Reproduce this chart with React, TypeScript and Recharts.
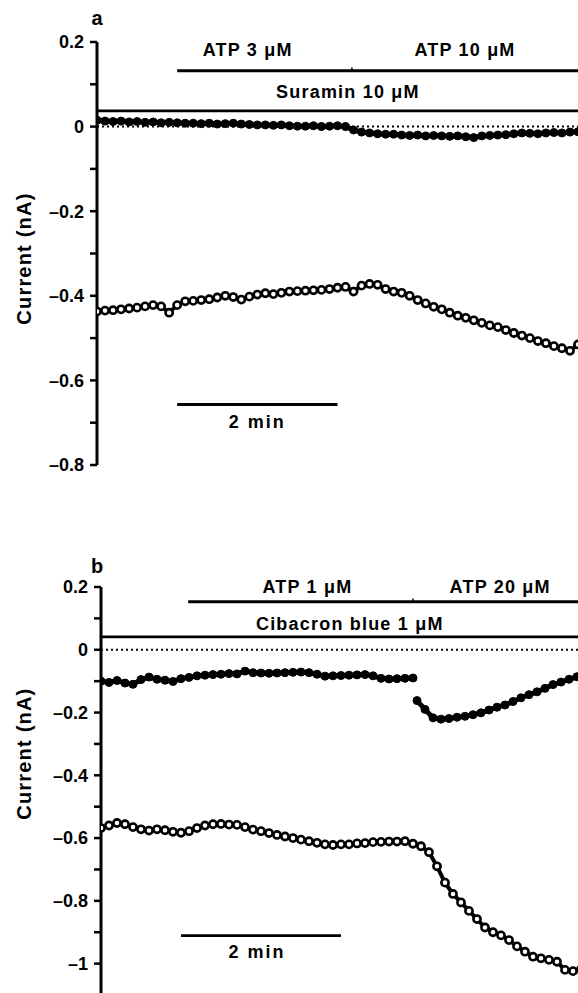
import React from 'react';
import { LineChart, Line, XAxis, YAxis, ReferenceLine, ReferenceDot } from 'recharts';

const FONT = '"Liberation Sans", Arial, Helvetica, sans-serif';

// sample times in minutes (one point every 0.1 min)
const TIME = [
  0, 0.1, 0.2, 0.3, 0.4, 0.5, 0.6, 0.7, 0.8, 0.9,
  1, 1.1, 1.2, 1.3, 1.4, 1.5, 1.6, 1.7, 1.8, 1.9,
  2, 2.1, 2.2, 2.3, 2.4, 2.5, 2.6, 2.7, 2.8, 2.9,
  3, 3.1, 3.2, 3.3, 3.4, 3.5, 3.6, 3.7, 3.8, 3.9,
  4, 4.1, 4.2, 4.3, 4.4, 4.5, 4.6, 4.7, 4.8, 4.9,
  5, 5.1, 5.2, 5.3, 5.4, 5.5, 5.6, 5.7, 5.8, 5.9, 6,
];

const A_TICKS = [0.2, 0.1, 0, -0.1, -0.2, -0.3, -0.4, -0.5, -0.6, -0.7, -0.8];
const B_TICKS = [0.2, 0.1, 0, -0.1, -0.2, -0.3, -0.4, -0.5, -0.6, -0.7, -0.8, -0.9, -1];

// panel a, current (nA)
const A_UPPER = [
  0.015, 0.013, 0.012, 0.013, 0.011, 0.012, 0.010, 0.011, 0.009, 0.010,
  0.009, 0.008, 0.008, 0.007, 0.008, 0.006, 0.007, 0.008, 0.006, 0.005,
  0.004, 0.004, 0.003, 0.004, 0.002, 0.001, 0.001, 0.002, 0.000, 0.001,
  0.002, 0.000, -0.008, -0.013, -0.015, -0.017, -0.018, -0.018, -0.020, -0.021,
  -0.020, -0.022, -0.021, -0.022, -0.023, -0.022, -0.024, -0.026, -0.022, -0.021,
  -0.020, -0.019, -0.017, -0.015, -0.016, -0.017, -0.015, -0.014, -0.015, -0.013, -0.012,
];
const A_LOWER = [
  -0.437, -0.435, -0.434, -0.432, -0.430, -0.428, -0.425, -0.422, -0.425, -0.440,
  -0.422, -0.413, -0.412, -0.410, -0.408, -0.404, -0.400, -0.403, -0.409, -0.402,
  -0.397, -0.394, -0.396, -0.393, -0.390, -0.389, -0.388, -0.387, -0.386, -0.384,
  -0.381, -0.379, -0.390, -0.376, -0.372, -0.374, -0.384, -0.390, -0.393, -0.400,
  -0.410, -0.418, -0.426, -0.432, -0.440, -0.447, -0.452, -0.458, -0.464, -0.470,
  -0.474, -0.481, -0.488, -0.494, -0.500, -0.507, -0.512, -0.519, -0.524, -0.530, -0.515,
];

// panel b, current (nA)
const B_UPPER_1 = [
  -0.100, -0.104, -0.098, -0.106, -0.110, -0.095, -0.087, -0.094, -0.097, -0.101,
  -0.092, -0.088, -0.083, -0.081, -0.079, -0.078, -0.076, -0.077, -0.068, -0.073,
  -0.074, -0.075, -0.074, -0.073, -0.072, -0.071, -0.073, -0.078, -0.084, -0.083,
  -0.082, -0.081, -0.080, -0.079, -0.083, -0.091, -0.093, -0.092, -0.091, -0.090,
];
const B_UPPER_2_TIME = [
  3.95, 4.05, 4.15, 4.25, 4.35, 4.45, 4.55, 4.65, 4.75, 4.85,
  4.95, 5.05, 5.15, 5.25, 5.35, 5.45, 5.55, 5.65, 5.75, 5.85, 5.95,
];
const B_UPPER_2 = [
  -0.162, -0.190, -0.217, -0.221, -0.219, -0.215, -0.212, -0.207, -0.201, -0.192,
  -0.183, -0.176, -0.165, -0.153, -0.143, -0.134, -0.123, -0.111, -0.103, -0.094, -0.086,
];
const B_LOWER = [
  -0.568, -0.560, -0.552, -0.556, -0.565, -0.572, -0.576, -0.572, -0.575, -0.580,
  -0.583, -0.578, -0.568, -0.560, -0.556, -0.555, -0.557, -0.558, -0.565, -0.573,
  -0.578, -0.584, -0.590, -0.595, -0.600, -0.605, -0.610, -0.615, -0.620, -0.622,
  -0.620, -0.620, -0.617, -0.616, -0.613, -0.612, -0.611, -0.611, -0.610, -0.618,
  -0.626, -0.645, -0.690, -0.742, -0.778, -0.805, -0.832, -0.858, -0.885, -0.900,
  -0.910, -0.925, -0.945, -0.962, -0.978, -0.983, -0.988, -0.994, -1.020, -1.024, -1.018,
];

const series = (times: number[], vals: number[]) => times.map((t, i) => ({ t, v: vals[i] }));

const fmtTick = (v: number) => {
  const k = Math.round(v * 10);
  if (k % 2 !== 0) return '';
  if (k === 0) return '0';
  return (k < 0 ? '–' : '') + String(Math.abs(k) / 10);
};

const note = (key: string, x: number, y: number, text: string, extra: any = {}) => (
  <ReferenceDot
    key={key}
    x={x}
    y={y}
    r={0}
    ifOverflow="visible"
    stroke="none"
    fill="none"
    label={{
      value: text,
      position: 'center',
      fill: '#000',
      fontSize: 18,
      fontWeight: 700,
      fontFamily: FONT,
      letterSpacing: 1.2,
      ...extra,
    }}
  />
);

const bar = (key: string, x1: number, x2: number, y: number) => (
  <ReferenceLine
    key={key}
    segment={[{ x: x1, y }, { x: x2, y }]}
    stroke="#000"
    strokeWidth={2.8}
    ifOverflow="visible"
  />
);

const axisProps = {
  type: 'number' as const,
  interval: 0 as const,
  tickFormatter: fmtTick,
  tickSize: 7,
  tickMargin: 6,
  axisLine: { stroke: '#000', strokeWidth: 3 },
  tickLine: { stroke: '#000', strokeWidth: 2.5 },
  tick: { fill: '#000', fontSize: 18, fontWeight: 700, fontFamily: FONT },
  allowDataOverflow: true,
};

const filledDot = { r: 4, fill: '#000', stroke: '#000', strokeWidth: 1 };
const openDot = { r: 3.6, fill: '#fff', stroke: '#000', strokeWidth: 2.6 };

const PanelA = () => (
  <LineChart width={578} height={480} margin={{ top: 42, right: 0, bottom: 15, left: 0 }}>
    <XAxis type="number" dataKey="t" domain={[0, 6]} hide allowDataOverflow />
    <YAxis {...axisProps} domain={[-0.8, 0.2]} ticks={A_TICKS} width={97} />
    <ReferenceLine y={0} stroke="#000" strokeWidth={2} strokeDasharray="2 3" />
    {bar('atp', 1, 6, 0.132)}
    <ReferenceLine segment={[{ x: 3.18, y: 0.132 }, { x: 3.18, y: 0.14 }]} stroke="#000" strokeWidth={1.5} ifOverflow="visible" />
    {bar('sur', 0, 6, 0.037)}
    {bar('scale', 1, 3, -0.657)}
    {note('pa', 0, 0.257, 'a', { letterSpacing: 0, fontSize: 20 })}
    {note('yl', -0.91, -0.312, 'Current (nA)', { angle: -90, fontSize: 20, letterSpacing: 1.2 })}
    {note('atp3', 1.88, 0.183, 'ATP 3 μM')}
    {note('atp10', 4.59, 0.183, 'ATP 10 μM')}
    {note('sur10', 3.13, 0.082, 'Suramin 10 μM')}
    {note('min', 2.0, -0.697, '2 min', { letterSpacing: 2 })}
    <Line data={series(TIME, A_UPPER)} dataKey="v" type="linear" stroke="#000" strokeWidth={5} dot={filledDot} isAnimationActive={false} />
    <Line data={series(TIME, A_LOWER)} dataKey="v" type="linear" stroke="#000" strokeWidth={4} dot={openDot} isAnimationActive={false} />
  </LineChart>
);

const PanelB = () => (
  <LineChart width={581} height={495} margin={{ top: 87, right: 0, bottom: 0, left: 0 }}>
    <XAxis type="number" dataKey="t" domain={[0, 6]} hide allowDataOverflow />
    <YAxis {...axisProps} domain={[-1.1, 0.2]} ticks={B_TICKS} width={101} />
    <ReferenceLine y={0} stroke="#000" strokeWidth={2} strokeDasharray="2 3" />
    {bar('atp', 1.09, 6, 0.153)}
    <ReferenceLine segment={[{ x: 3.9, y: 0.153 }, { x: 3.9, y: 0.163 }]} stroke="#000" strokeWidth={1.5} ifOverflow="visible" />
    {bar('cib', 0, 6, 0.041)}
    {bar('scale', 1, 3, -0.911)}
    {note('pb', -0.05, 0.268, 'b', { letterSpacing: 0, fontSize: 20 })}
    {note('yl', -0.96, -0.331, 'Current (nA)', { angle: -90, fontSize: 20, letterSpacing: 1.2 })}
    {note('atp1', 2.58, 0.2, 'ATP 1 μM')}
    {note('atp20', 4.99, 0.2, 'ATP 20 μM')}
    {note('cib1', 3.11, 0.083, 'Cibacron blue 1 μM')}
    {note('min', 1.95, -0.962, '2 min', { letterSpacing: 2 })}
    <Line data={series(TIME.slice(0, 40), B_UPPER_1)} dataKey="v" type="linear" stroke="#000" strokeWidth={5} dot={filledDot} isAnimationActive={false} />
    <Line data={series(B_UPPER_2_TIME, B_UPPER_2)} dataKey="v" type="linear" stroke="#000" strokeWidth={5} dot={filledDot} isAnimationActive={false} />
    <Line data={series(TIME, B_LOWER)} dataKey="v" type="linear" stroke="#000" strokeWidth={4} dot={openDot} isAnimationActive={false} />
  </LineChart>
);

export default function App() {
  return (
    <div style={{ position: 'absolute', left: 0, top: 0, width: 578, height: 993, overflow: 'hidden', background: '#fff' }}>
      <div style={{ position: 'absolute', left: 0, top: 0 }}>
        <PanelA />
      </div>
      <div style={{ position: 'absolute', left: 0, top: 500 }}>
        <PanelB />
      </div>
    </div>
  );
}
